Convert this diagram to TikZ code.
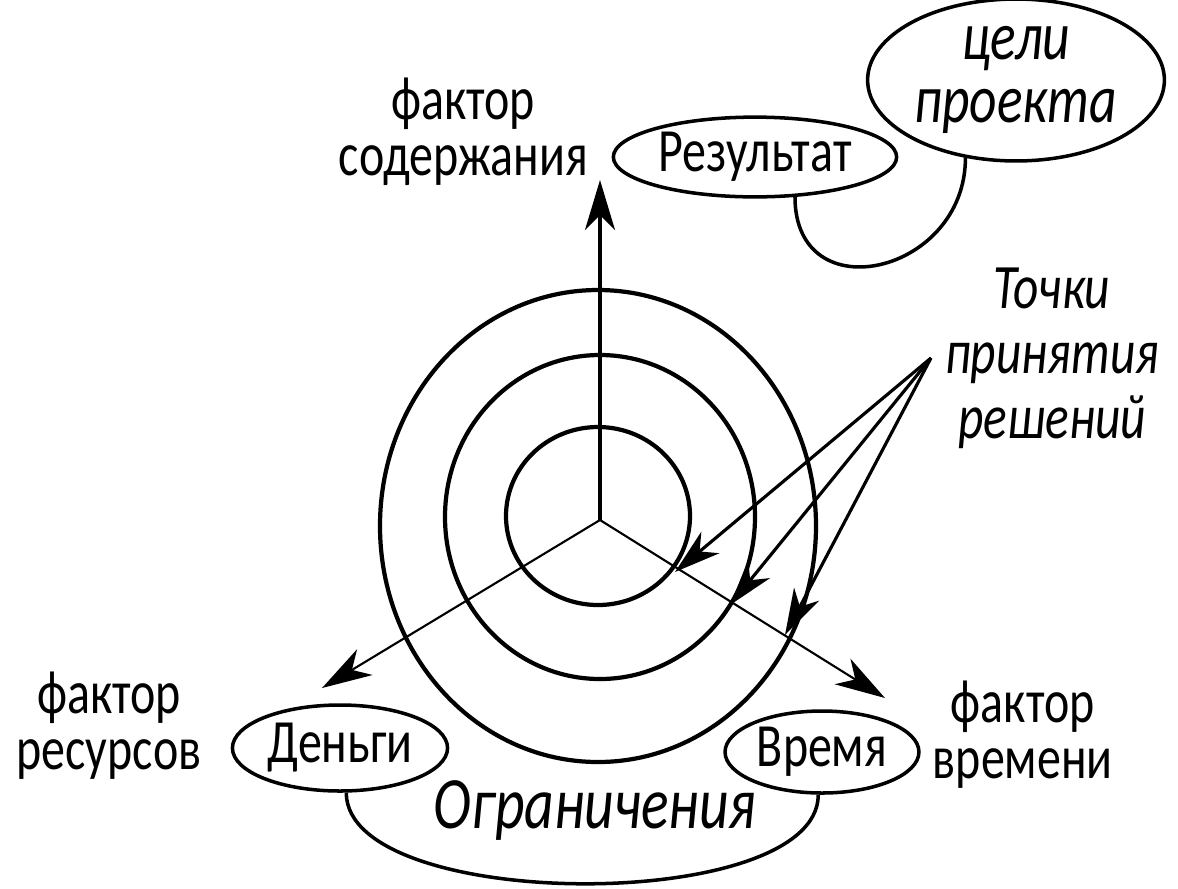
\documentclass[tikz,border=0pt]{standalone}
\usepackage{fontspec}
\setmainfont{Carlito}[FakeStretch=0.78]
\usetikzlibrary{positioning}
\usetikzlibrary{calc}
\usetikzlibrary{shapes.geometric,arrows.meta}

\begin{document}
\begin{tikzpicture}[
    bubble/.style={ellipse, draw=black, line width=1pt, inner sep=-8pt},
    words/.style={align=center, inner sep=1pt, font=\fontsize{17.5}{16}\selectfont},
    ring/.style={line width=1.2pt},
    link/.style={line width=1pt},
    axis/.style={line width=#1, -{Stealth[length=5mm,width=3mm,inset=1.5mm]}},
    pointer/.style={line width=0.9pt, -{Stealth[length=4.6mm,width=2.8mm,inset=1.4mm]}},
  ]

  \useasboundingbox (-6.00,-3.68) rectangle (5.78,5.20);

  \coordinate (O) at (0, 0);
  \coordinate (CONTENT) at (0, 3.40);
  \coordinate (RESOURCES) at (-2.78, -1.68);
  \coordinate (TIME) at (2.85, -1.78);
  \coordinate (P1) at (0.75, -0.52);
  \coordinate (P2) at (1.30, -0.85);
  \coordinate (P3) at (1.85, -1.15);

  % rings
  \draw [ring] (-0.02, 0.04) ellipse [x radius=0.92, y radius=0.89];
  \draw [ring] (0, 0.03) ellipse [x radius=1.55, y radius=1.62];
  \draw [ring] (-0.02, -0.06) ellipse [x radius=2.18, y radius=2.36];

  \node [words, anchor=east] (CONTENTLBL) at (-0.08, 3.88) {фактор\\содержания};
  \node [bubble, words, minimum width=2.86cm, minimum height=1.32cm, font=\itshape\fontsize{19.5}{18}\selectfont] (GOALS) at (4.16, 4.40) {цели\\проекта};
  \node [bubble, words, minimum width=2.6cm, minimum height=0.68cm] (RESULT) at (1.55, 3.63) {Результат};
  \node [words, font=\itshape\fontsize{18}{18.5}\selectfont] (DECISIONS) at (4.52, 1.62) {Точки\\принятия\\решений};
  \coordinate [left=0.1cm of DECISIONS] (SRC);

  \node [bubble, words, minimum width=2.0cm, minimum height=0.86cm] (MONEY) at (-2.60, -2.28) {Деньги};
  \node [bubble, words, minimum width=1.86cm, minimum height=0.82cm] (TIMEB) at (2.22, -2.32) {Время};
  \node [words, left=0.25cm of MONEY, yshift=0.22cm] (RESLBL) {фактор\\ресурсов};
  \node [words, right=0.08cm of TIMEB, yshift=0.17cm] (TIMELBL) {фактор\\времени};
  \node [words, font=\itshape\fontsize{21}{15}\selectfont] (LIMITS) at (-0.05, -2.90) {Ограничения};

  \draw [axis=0.9pt] (O) -- (CONTENT);
  \draw [axis=0.6pt] (O) -- (RESOURCES);
  \draw [axis=0.6pt] (O) -- (TIME);

  \draw [pointer] (SRC) -- (P1);
  \draw [pointer] (SRC) -- (P2);
  \draw [pointer] (SRC) -- (P3);

  \draw [link] (RESULT.-45) to[out=-90, in=-90, looseness=1.7] (GOALS.-123);
  \draw [link] (MONEY.-82) to[out=-90, in=-90, looseness=0.65] (TIMEB.-95);

\end{tikzpicture}
\end{document}
